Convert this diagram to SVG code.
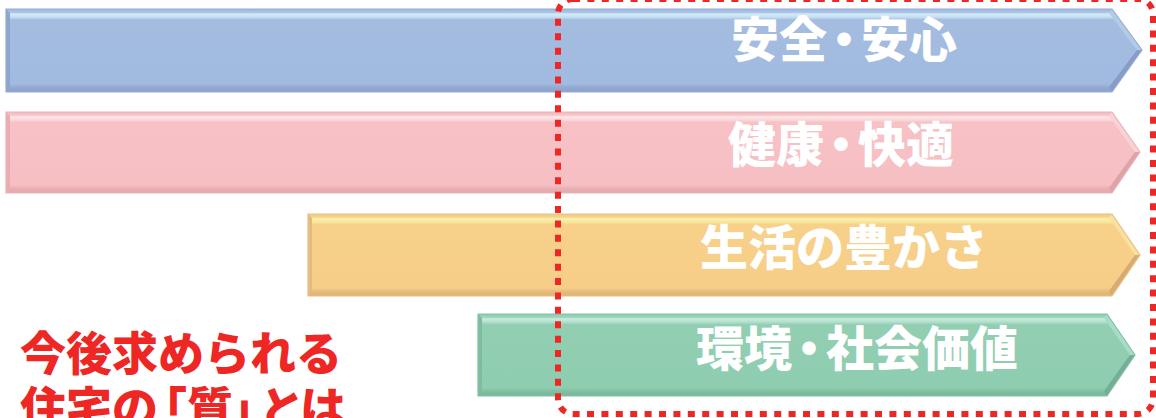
<svg xmlns="http://www.w3.org/2000/svg" width="1156" height="418" viewBox="0 0 1156 418">
<style>
.lbl{font-family:"Noto Sans CJK JP","Noto Sans CJK SC",sans-serif;font-weight:900;font-size:48px;fill:#ffffff;text-anchor:middle}
.red{font-family:"Noto Sans CJK JP","Noto Sans CJK SC",sans-serif;font-weight:900;font-size:46px;fill:#ee2624}
.edge{fill:none;stroke-width:1.2}
.frame{fill:none;stroke:#ee2624;stroke-width:6;stroke-dasharray:7 7.4}
</style>
<defs>
<linearGradient id="gB" x1="0" y1="0" x2="0" y2="1">
<stop offset="0" stop-color="#9fb6dc"/><stop offset="0.04" stop-color="#a9c3e6"/><stop offset="0.06" stop-color="#d2ecf7"/><stop offset="0.1" stop-color="#c3def2"/><stop offset="0.13" stop-color="#a3bce0"/><stop offset="0.9" stop-color="#a1badf"/><stop offset="0.95" stop-color="#93a8d1"/><stop offset="1" stop-color="#8ea2cb"/>
</linearGradient>
<linearGradient id="gP" x1="0" y1="0" x2="0" y2="1">
<stop offset="0" stop-color="#f0b9bd"/><stop offset="0.04" stop-color="#f7c7cb"/><stop offset="0.06" stop-color="#fde8ea"/><stop offset="0.1" stop-color="#fad6d9"/><stop offset="0.13" stop-color="#f7c1c5"/><stop offset="0.9" stop-color="#f6bfc3"/><stop offset="0.95" stop-color="#e8aeb2"/><stop offset="1" stop-color="#e3a7ab"/>
</linearGradient>
<linearGradient id="gO" x1="0" y1="0" x2="0" y2="1">
<stop offset="0" stop-color="#f0c886"/><stop offset="0.04" stop-color="#f6d690"/><stop offset="0.06" stop-color="#fbf2a8"/><stop offset="0.1" stop-color="#f9e49c"/><stop offset="0.13" stop-color="#f7d08a"/><stop offset="0.9" stop-color="#f6ce88"/><stop offset="0.95" stop-color="#e4ba7c"/><stop offset="1" stop-color="#dbb277"/>
</linearGradient>
<linearGradient id="gG" x1="0" y1="0" x2="0" y2="1">
<stop offset="0" stop-color="#8cc9ae"/><stop offset="0.04" stop-color="#9dd4bd"/><stop offset="0.06" stop-color="#c8ece0"/><stop offset="0.1" stop-color="#b0dfcb"/><stop offset="0.13" stop-color="#91ceb2"/><stop offset="0.9" stop-color="#8fcdb0"/><stop offset="0.95" stop-color="#7fbca0"/><stop offset="1" stop-color="#79b59a"/>
</linearGradient>
</defs>

<g id="arrow-safety">
<polygon points="6,9 1112,9 1142,50 1112,92 6,92" fill="url(#gB)"/>
<polygon points="6,9 10,13 10,88 6,92" fill="#8ea5cf"/>
<polygon points="1112,9 1142,50 1137,50 1109,13" fill="#b4cbe8"/>
<polygon points="1142,50 1112,92 1109,87 1137,50" fill="#879dc8"/>
<polygon class="edge" points="6,9 1112,9 1142,50 1112,92 6,92" stroke="#97acd4"/>
<text class="lbl" x="844" y="57"><tspan>安全</tspan><tspan dx="-7">・</tspan><tspan dx="-7">安心</tspan></text>
</g>

<g id="arrow-health">
<polygon points="6,112 1112,112 1140,152 1112,193 6,193" fill="url(#gP)"/>
<polygon points="6,112 10,116 10,189 6,193" fill="#e9acb0"/>
<polygon points="1112,112 1140,152 1135,152 1109,116" fill="#f9d2d5"/>
<polygon points="1140,152 1112,193 1109,188 1135,152" fill="#dea3a7"/>
<polygon class="edge" points="6,112 1112,112 1140,152 1112,193 6,193" stroke="#ebb3b7"/>
<text class="lbl" x="841" y="162"><tspan>健康</tspan><tspan dx="-7">・</tspan><tspan dx="-7">快適</tspan></text>
</g>

<g id="arrow-life">
<polygon points="308,214 1112,214 1140,255 1112,296 308,296" fill="url(#gO)"/>
<polygon points="308,214 312,218 312,292 308,296" fill="#e3bb7d"/>
<polygon points="1112,214 1140,255 1135,255 1109,218" fill="#f9e0a0"/>
<polygon points="1140,255 1112,296 1109,291 1135,255" fill="#d6ac72"/>
<polygon class="edge" points="308,214 1112,214 1140,255 1112,296 308,296" stroke="#e8c283"/>
<text class="lbl" x="844" y="265">生活の豊かさ</text>
</g>

<g id="arrow-environment">
<polygon points="478,314 1107,314 1135,355 1107,396 478,396" fill="url(#gG)"/>
<polygon points="478,314 482,318 482,392 478,396" fill="#7dbd9f"/>
<polygon points="1107,314 1135,355 1130,355 1104,318" fill="#a9dcc7"/>
<polygon points="1135,355 1107,396 1104,391 1130,355" fill="#74ae94"/>
<polygon class="edge" points="478,314 1107,314 1135,355 1107,396 478,396" stroke="#84c2a6"/>
<text class="lbl" x="857" y="366"><tspan>環境</tspan><tspan dx="-7">・</tspan><tspan dx="-7">社会価値</tspan></text>
</g>

<g id="heading">
<text class="red" x="20" y="370">今後求められる</text>
<text class="red" y="425"><tspan x="20">住宅の</tspan><tspan x="141">「</tspan><tspan x="187">質</tspan><tspan x="231">」</tspan><tspan x="259">と</tspan><tspan x="300">は</tspan></text>
</g>

<g id="connectors">
<rect id="focus-frame" class="frame" x="558" y="-1" width="595" height="415" rx="15" ry="15"/>
</g>
</svg>
